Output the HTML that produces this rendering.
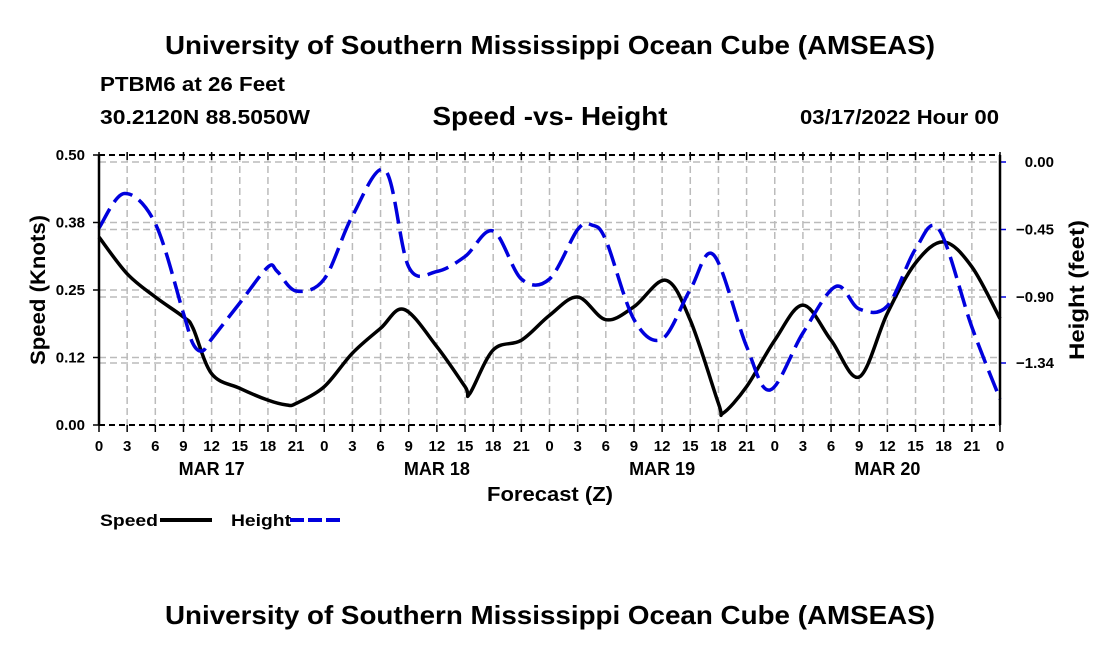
<!DOCTYPE html>
<html><head><meta charset="utf-8"><style>
html,body{margin:0;padding:0;background:#fff;}
svg{display:block;font-family:"Liberation Sans",Arial,sans-serif;font-weight:bold;}
</style></head><body>
<svg id="chart" width="1100" height="650" viewBox="0 0 1100 650" xmlns="http://www.w3.org/2000/svg">
<text x="550" y="54" text-anchor="middle" font-size="26" textLength="770" lengthAdjust="spacingAndGlyphs">University of Southern Mississippi Ocean Cube (AMSEAS)</text>
<text x="100" y="91" font-size="20" textLength="185" lengthAdjust="spacingAndGlyphs">PTBM6 at 26 Feet</text>
<text x="100" y="124" font-size="20" textLength="210" lengthAdjust="spacingAndGlyphs">30.2120N  88.5050W</text>
<text x="550" y="125" text-anchor="middle" font-size="26" textLength="235" lengthAdjust="spacingAndGlyphs">Speed -vs- Height</text>
<text x="999" y="124" text-anchor="end" font-size="20" textLength="199" lengthAdjust="spacingAndGlyphs">03/17/2022 Hour 00</text>
<g id="grid"></g>
<g id="series"></g>
<g id="axes"></g>
<text transform="translate(45,290) rotate(-90)" text-anchor="middle" font-size="21" textLength="150" lengthAdjust="spacingAndGlyphs">Speed (Knots)</text>
<text transform="translate(1084,290) rotate(-90)" text-anchor="middle" font-size="21" textLength="140" lengthAdjust="spacingAndGlyphs">Height (feet)</text>
<text x="550" y="501" text-anchor="middle" font-size="20" textLength="126" lengthAdjust="spacingAndGlyphs">Forecast (Z)</text>
<g>
<text x="100" y="526" font-size="17" textLength="58" lengthAdjust="spacingAndGlyphs">Speed</text>
<line x1="160" y1="520" x2="212" y2="520" stroke="#000" stroke-width="4"/>
<text x="231" y="526" font-size="17" textLength="60" lengthAdjust="spacingAndGlyphs">Height</text>
<line x1="290" y1="520" x2="342" y2="520" stroke="#0000dd" stroke-width="4" stroke-dasharray="14,4"/>
</g>
<text x="550" y="624" text-anchor="middle" font-size="26" textLength="770" lengthAdjust="spacingAndGlyphs">University of Southern Mississippi Ocean Cube (AMSEAS)</text>
</svg>
<script>
const speedHours = [0,3,6,9,10,12,15,18,20,21,24,27,30,32.5,36,39,39.5,42,45,48,51,54,57,60.4,63,66,66.5,69,72,75,78,81,84,87,90,93,96];
const speedValues = [0.348,0.28,0.237,0.20,0.18,0.095,0.068,0.046,0.037,0.04,0.071,0.133,0.179,0.214,0.145,0.071,0.058,0.139,0.157,0.203,0.237,0.195,0.219,0.268,0.194,0.04,0.022,0.071,0.157,0.222,0.157,0.089,0.207,0.30,0.339,0.293,0.197];
const heightHours = [0,2.7,6,9,10,11,12,15,18,19,21,24,27,30.5,33,36,39,42,45,48,51,52.5,54,57,60,63,65.5,69,71.5,75,78.5,81,84,87,89.5,93,96];
const heightValues = [-0.44,-0.21,-0.41,-1.01,-1.21,-1.26,-1.18,-0.94,-0.70,-0.73,-0.86,-0.78,-0.36,-0.056,-0.70,-0.73,-0.63,-0.46,-0.78,-0.78,-0.45,-0.42,-0.52,-1.05,-1.18,-0.85,-0.62,-1.23,-1.52,-1.14,-0.83,-0.98,-0.96,-0.58,-0.45,-1.10,-1.58];
const speedTicks = [0,0.125,0.25,0.375,0.5];
const speedTickLabels = ["0.00","0.12","0.25","0.38","0.50"];
const heightTicks = [0,-0.45,-0.90,-1.34];
const heightTickLabels = ["0.00","\u22120.45","\u22120.90","\u22121.34"];
const hourTickLabels = ["0","3","6","9","12","15","18","21"];
const dayLabels = ["MAR 17","MAR 18","MAR 19","MAR 20"];

const L=99,R=1000,T=155,B=425;
const xs=h=>L+(R-L)*h/96;
const ySpeed=v=>B-(B-T)*v/0.5;
const yHeight=v=>162-150*v;
const NS="http://www.w3.org/2000/svg";
function mk(tag,attrs,parent){const e=document.createElementNS(NS,tag);for(const k in attrs)e.setAttribute(k,attrs[k]);parent.appendChild(e);return e;}
const grid=document.getElementById('grid'),axes=document.getElementById('axes'),series=document.getElementById('series');

for(let h=3;h<96;h+=3){
  const g=mk('line',{x1:xs(h),x2:xs(h),y1:T,y2:B,stroke:'#bbb','stroke-width':1.5,'stroke-dasharray':'7,4'},grid);
  
  
}
speedTicks.forEach((v,i)=>{
  if(i>0&&i<speedTicks.length-1){
    const g=mk('line',{x1:L,x2:R,y1:ySpeed(v),y2:ySpeed(v),stroke:'#bbb','stroke-width':1.5,'stroke-dasharray':'7,4'},grid);
    
    
  }
  const t=mk('line',{x1:L-6,x2:L,y1:ySpeed(v),y2:ySpeed(v),stroke:'#000','stroke-width':1.5},axes);
  
  
  const lb=mk('text',{x:L-14,y:ySpeed(v)+5,'text-anchor':'end','font-size':15},axes);
  lb.textContent=speedTickLabels[i];
  
  
});
heightTicks.forEach((v,i)=>{
  const g=mk('line',{x1:L,x2:R,y1:yHeight(v),y2:yHeight(v),stroke:'#bbb','stroke-width':1.5,'stroke-dasharray':'7,4'},grid);
  
  
  const t=mk('line',{x1:R,x2:R+6,y1:yHeight(v),y2:yHeight(v),stroke:'#0000dd','stroke-width':1.5},axes);
  
  
  const lb=mk('text',{x:1054,y:yHeight(v)+5,'text-anchor':'end','font-size':15},axes);
  lb.textContent=heightTickLabels[i];
  
  
});
[[L,T,R,T],[L,B,R,B]].forEach(c=>{
  const f=mk('line',{x1:c[0],y1:c[1],x2:c[2],y2:c[3],stroke:'#000','stroke-width':2,'stroke-dasharray':'6,4'},axes);
  
  
});
[[L,T,L,B],[R,T,R,B]].forEach(c=>{
  const f=mk('line',{x1:c[0],y1:c[1],x2:c[2],y2:c[3],stroke:'#000','stroke-width':2.5},axes);
  
  
});
for(let h=0;h<=96;h+=3){
  const a=mk('line',{x1:xs(h),x2:xs(h),y1:B,y2:B+7,stroke:'#000','stroke-width':1.5},axes);
  
  
  const b=mk('line',{x1:xs(h),x2:xs(h),y1:T-3,y2:T+5,stroke:'#000','stroke-width':1.5},axes);
  
  
  const lb=mk('text',{x:xs(h),y:451,'text-anchor':'middle','font-size':15},axes);
  lb.textContent=hourTickLabels[(h/3)%8];
  
  
}
dayLabels.forEach((d,i)=>{
  const lb=mk('text',{x:xs(12+24*i),y:475,'text-anchor':'middle','font-size':18},axes);
  lb.textContent=d;
  
  
});
function smooth(pts){
  let d='M'+pts[0][0]+','+pts[0][1];
  for(let i=0;i<pts.length-1;i++){
    const p0=pts[Math.max(0,i-1)],p1=pts[i],p2=pts[i+1],p3=pts[Math.min(pts.length-1,i+2)];
    const c1=[p1[0]+(p2[0]-p0[0])/6,p1[1]+(p2[1]-p0[1])/6];
    const c2=[p2[0]-(p3[0]-p1[0])/6,p2[1]-(p3[1]-p1[1])/6];
    d+=' C'+c1.join(',')+' '+c2.join(',')+' '+p2.join(',');
  }
  return d;
}
const sp=mk('path',{d:smooth(speedHours.map((h,i)=>[xs(h),ySpeed(speedValues[i])])),fill:'none',stroke:'#000','stroke-width':3.5,'stroke-linejoin':'round'},series);


const hp=mk('path',{d:smooth(heightHours.map((h,i)=>[xs(h),yHeight(heightValues[i])])),fill:'none',stroke:'#0000dd','stroke-width':3.5,'stroke-dasharray':'22,8'},series);


</script>
</body></html>
